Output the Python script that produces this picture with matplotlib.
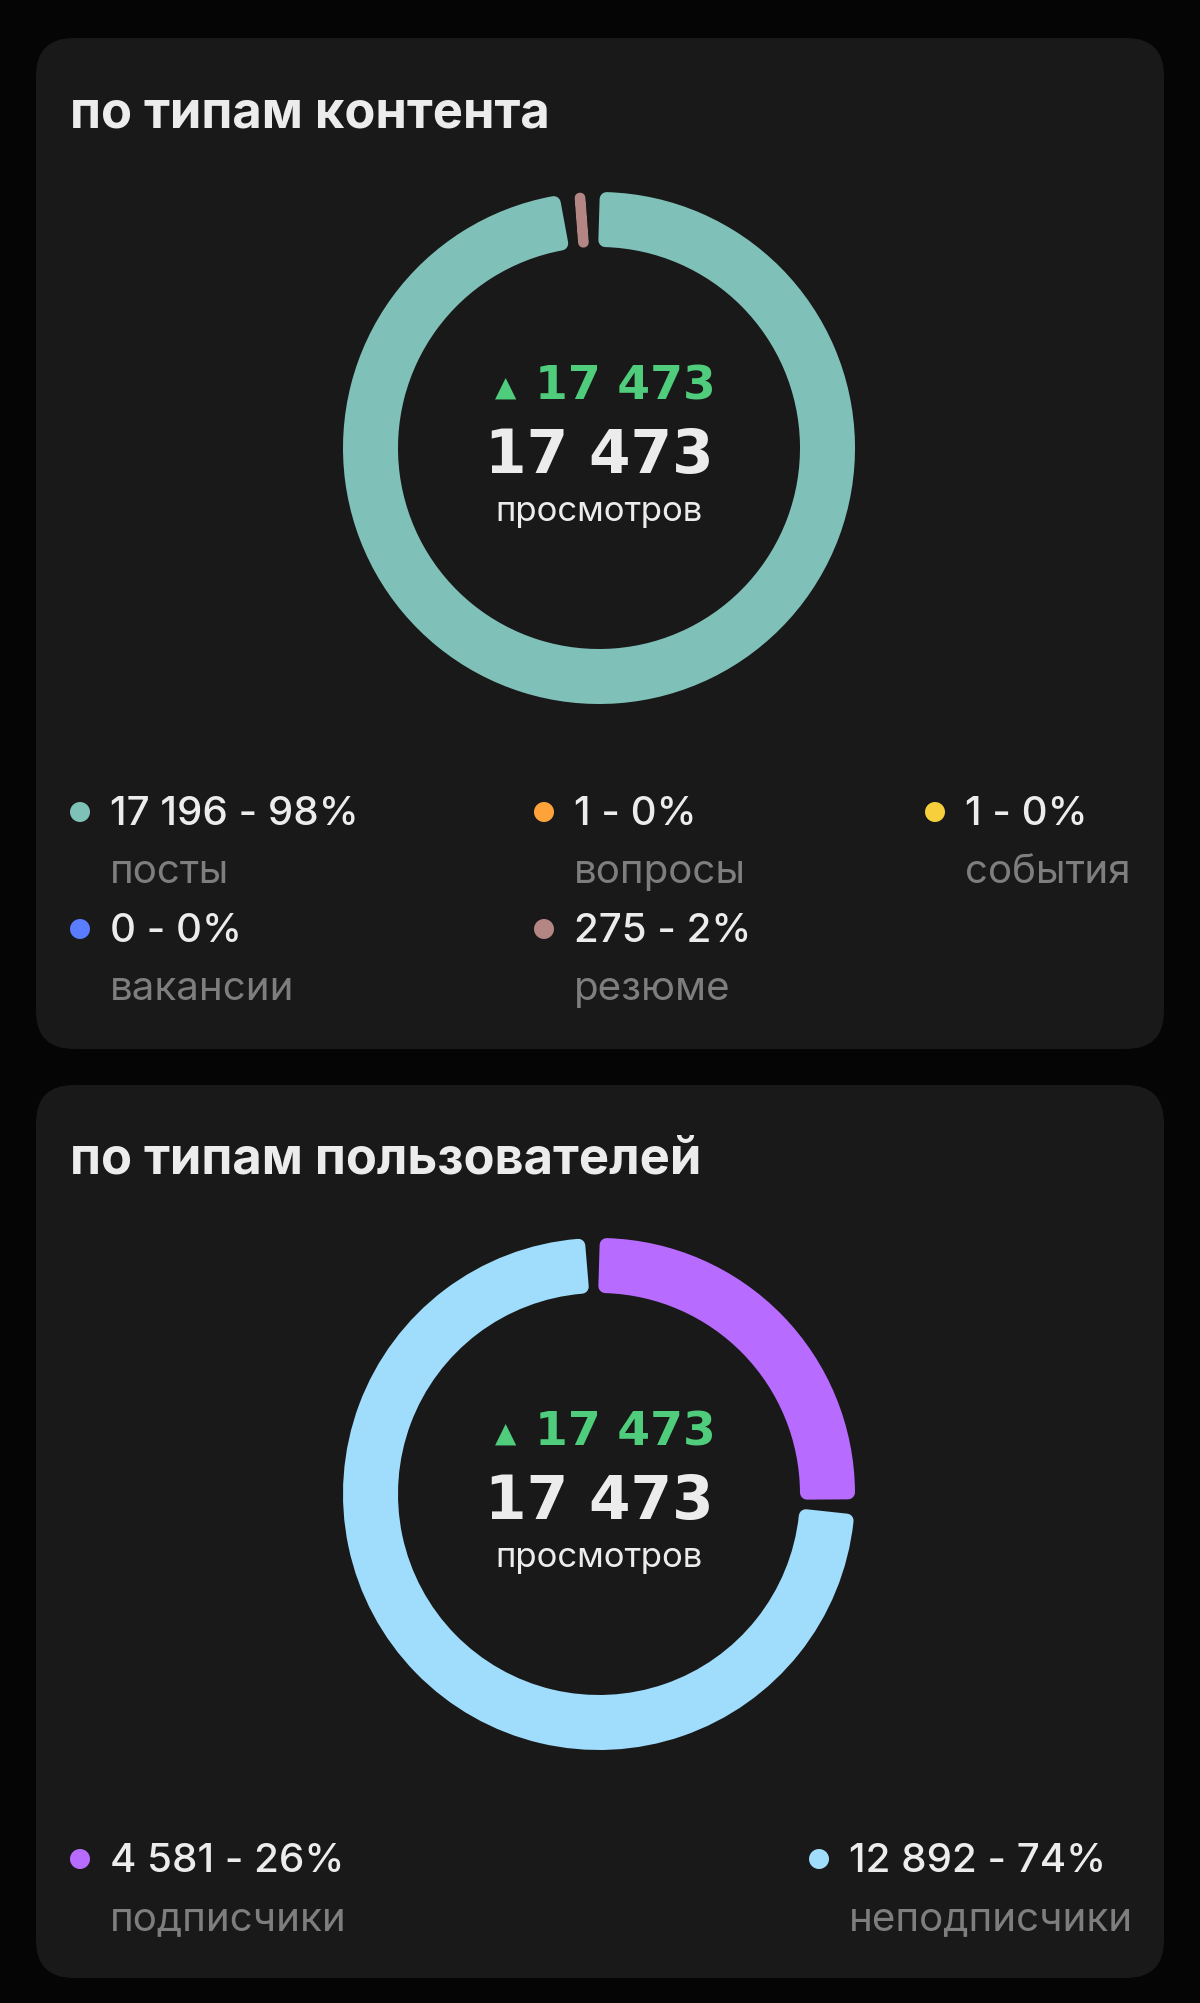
import matplotlib
matplotlib.use("Agg")
import matplotlib.pyplot as plt
from matplotlib.patches import FancyBboxPatch, Circle
import numpy as np

W, H = 1200, 2003
DPI = 100

# data
content_labels = ["посты", "вопросы", "события", "вакансии", "резюме"]
content_values = [17196, 1, 1, 0, 275]
content_pct = ["98%", "0%", "0%", "0%", "2%"]
content_colors = ["#7fc1b8", "#ffa23a", "#f7cf3c", "#5a7cff", "#b38583"]

user_labels = ["подписчики", "неподписчики"]
user_values = [4581, 12892]
user_pct = ["26%", "74%"]
user_colors = ["#b86cff", "#a0dcfb"]

total_views = 17473
delta_views = 17473

BG = "#050505"
CARD = "#191919"
WHITE = "#ececec"
GRAY = "#7e7e7e"
GREEN = "#4fcd7c"

SANS = ["Inter", "DejaVu Sans"]
WIDE = ["DejaVu Sans"]


def Y(y):
    return H - y


def fmt(n):
    return f"{n:,}".replace(",", " ")


fig = plt.figure(figsize=(W / DPI, H / DPI), dpi=DPI, facecolor=BG)
ax = fig.add_axes([0, 0, 1, 1])
ax.set_facecolor(BG)

# cards
for top, bottom in [(38, 1049), (1085, 1978)]:
    ax.add_patch(FancyBboxPatch((36, Y(bottom)), 1128, bottom - top,
                                boxstyle="round,pad=0,rounding_size=38",
                                fc=CARD, ec="none", zorder=0))


def donut(values, colors, cy, radius=256, ring=55, gap=12, rc=7):
    wedges, _ = ax.pie(values, colors=colors, startangle=90, counterclock=False,
                       radius=radius, center=(599, Y(cy)),
                       wedgeprops=dict(width=ring, linewidth=0))
    r_mid = radius - ring / 2
    for w in wedges:
        # segment starts at theta2 (clockwise), gap is cut from its end (theta1)
        arc = np.radians(w.theta2 - w.theta1) * r_mid - gap
        if arc <= 2:
            w.set_visible(False)
            continue
        r = min(rc, arc / 2 * 0.95)
        w.set_theta1(w.theta1 + np.degrees((gap + r) / r_mid))
        w.set_theta2(w.theta2 - np.degrees(r / r_mid))
        w.set_radius(radius - r)
        w.set_width(ring - 2 * r)
        w.set_edgecolor(w.get_facecolor())
        w.set_linewidth(2 * r * 72 / DPI)
        w.set_joinstyle("round")


def center_text(cy):
    # cy = donut centre
    ax.text(506, Y(cy - 52), "▲", color=GREEN, fontsize=20, family=WIDE,
            ha="center", va="baseline")
    ax.text(716, Y(cy - 48), fmt(delta_views), color=GREEN, fontsize=34,
            family=WIDE, weight="bold", ha="right", va="baseline")
    ax.text(599, Y(cy + 25), fmt(total_views), color=WHITE, fontsize=43,
            family=WIDE, weight="bold", ha="center", va="baseline")
    ax.text(599, Y(cy + 73), "просмотров", color=WHITE, fontsize=25,
            family=SANS, ha="center", va="baseline")


def legend_item(x, y, color, value, pct, label):
    ax.add_patch(Circle((x, Y(y - 13)), 10, fc=color, ec="none"))
    ax.text(x + 30, Y(y), f"{fmt(value)} - {pct}", color=WHITE, fontsize=29,
            family=SANS, weight="medium", ha="left", va="baseline")
    ax.text(x + 30, Y(y + 58), label, color=GRAY, fontsize=29,
            family=SANS, ha="left", va="baseline")


# top card
ax.text(70, Y(127), "по типам контента", color=WHITE, fontsize=36.5,
        family=SANS, weight="bold", ha="left", va="baseline")
donut(content_values, content_colors, 448)
center_text(448)
cols = [80, 544, 935, 80, 544]
rows = [825, 825, 825, 942, 942]
for i in range(len(content_values)):
    legend_item(cols[i], rows[i], content_colors[i], content_values[i],
                content_pct[i], content_labels[i])

# bottom card
ax.text(70, Y(1174), "по типам пользователей", color=WHITE, fontsize=36.5,
        family=SANS, weight="bold", ha="left", va="baseline")
donut(user_values, user_colors, 1494)
center_text(1494)
legend_item(80, 1872, user_colors[0], user_values[0], user_pct[0], user_labels[0])
legend_item(819, 1872, user_colors[1], user_values[1], user_pct[1], user_labels[1])

ax.set_xlim(0, W)
ax.set_ylim(0, H)
ax.set_aspect("auto")
ax.axis("off")

fig.savefig("out.png", dpi=DPI, facecolor=BG)
